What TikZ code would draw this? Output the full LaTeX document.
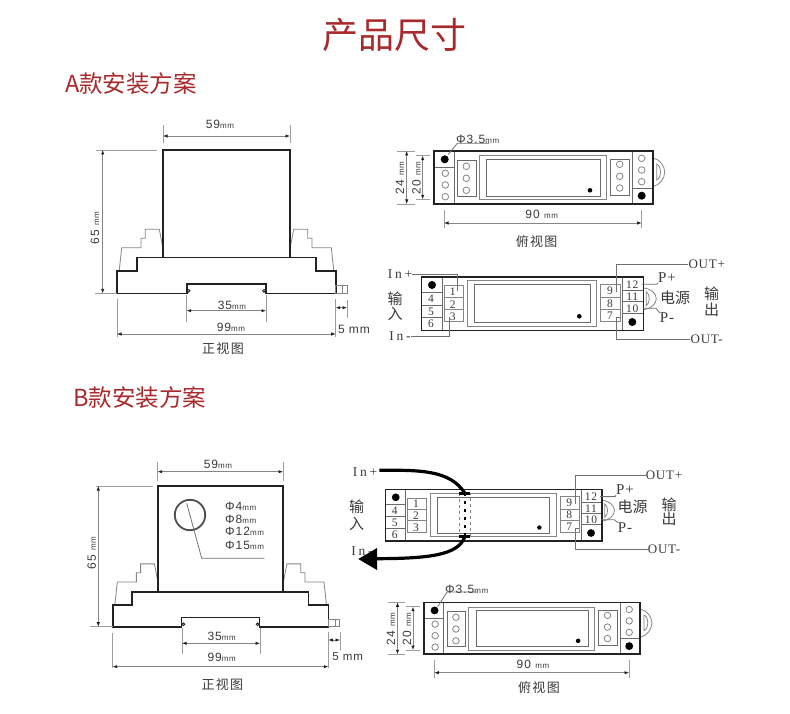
\documentclass[tikz,border=0pt]{standalone}
\usepackage{fontspec}
\usetikzlibrary{arrows.meta}
\setmainfont{Liberation Sans}
\newfontfamily\cjk{Noto Sans CJK SC}
\newfontfamily\cjkwide[LetterSpace=10]{Noto Sans CJK SC}
\newfontfamily\dimfont[LetterSpace=8]{Liberation Sans}
\newfontfamily\wfa[LetterSpace=20]{Liberation Serif}
\newfontfamily\wfb[LetterSpace=6]{Liberation Serif}
\newfontfamily\numfont[LetterSpace=6]{Liberation Serif}
\definecolor{ttl}{HTML}{A82A2C}
\definecolor{ink}{HTML}{222222}
\definecolor{soft}{HTML}{858585}
\definecolor{txt}{HTML}{3A3A3A}
\tikzset{
  x=1pt,y=-1pt,
  label/.style={inner sep=0pt,text=txt},
  heavy/.style={draw=ink,line width=1.6pt,line join=miter},
  thin part/.style={draw=soft,line width=.8pt},
  mid part/.style={draw=soft!80!black,line width=.9pt},
  dimln/.style={draw=soft,line width=.7pt,{Latex[length=4.5pt,width=3.4pt,color=ink]}-{Latex[length=4.5pt,width=3.4pt,color=ink]}},
  extln/.style={draw=soft!80,line width=.7pt},
  wire/.style={draw=soft!85!black,line width=.8pt},
  holefill/.style={fill=black,draw=none},
  hole ring/.style={draw=soft,line width=.8pt,fill=white},
}
\newcommand{\dm}[2]{{\dimfont\fontsize{12}{14}\selectfont #1\fontsize{8}{9}\selectfont #2}}
\newcommand{\cn}[1]{{\cjkwide\fontsize{13}{15}\selectfont #1}}
\newcommand{\wl}[1]{{\wfa\fontsize{13.5}{15}\selectfont #1}}
\newcommand{\wo}[1]{{\wfb\fontsize{13}{15}\selectfont #1}}
\newcommand{\wpw}[1]{{\wfb\fontsize{15}{17}\selectfont #1}}
\newcommand{\cb}[1]{{\cjk\fontsize{15}{17}\selectfont #1}}
\newcommand{\numl}[1]{{\numfont\fontsize{11.5}{13}\selectfont #1}}
% front view shape; origin: bottom-left corner of the base
\newcommand{\clipshape}{%
  \draw[thin part] (2.3,-23.3) -- (4.7,-45.6) -- (24,-45.6) -- (24,-55) -- (28.3,-55) -- (28.3,-64) -- (42.3,-64) -- (45.7,-46.6);
}
\newcommand{\frontshape}{%
  \clipshape
  \begin{scope}[xshift=219pt,xscale=-1]\clipshape\end{scope}
  \draw[heavy] (46,-35.6) rectangle (173,-143.3);
  \draw[heavy] (0,0) -- (0,-22) -- (19.7,-22) -- (19.7,-35.6) -- (198.7,-35.6) -- (198.7,-22) -- (218.7,-22) -- (218.7,0) -- (149,0) -- (149,-9.3) -- (69.7,-9.3) -- (69.7,0) -- cycle;
  \draw[draw=ink,line width=.8pt,fill=white] (71.7,-2.5) circle (1.4);
  \draw[draw=ink,line width=.8pt,fill=white] (147,-2.5) circle (1.4);
  \draw[thin part] (218.7,-7.6) rectangle (230,0);
  \draw[thin part] (225.5,-7.6) -- (225.5,0);
}
% top view; origin: top-left corner
\newcommand{\topshape}{%
  \draw[mid part] (0,16.3) -- (21,16.3);
  \draw[mid part] (20.3,0) -- (20.3,53);
  \draw[mid part] (199,0) -- (199,53);
  \draw[mid part] (199,37.3) -- (219,37.3);
  \draw[mid part] (23.6,9) rectangle (42.3,45);
  \draw[mid part] (177,8.3) rectangle (195.6,44);
  \draw[thin part] (45.3,4.7) rectangle (173,48.7);
  \draw[mid part] (53,8.3) rectangle (166.3,45);
  \foreach \px/\py in {11.6/22.3,11.6/34,11.6/45.7,32.6/15.3,32.6/27.3,32.6/39.3,186/13.3,186/25.3,186/37,208/7.3,208/19,208/30.7}
    \draw[hole ring] (\px,\py) circle (3.3);
  \fill[holefill] (11,8.3) circle (4);
  \fill[holefill] (208,44.7) circle (4);
  \fill[holefill] (156.3,39.3) circle (2.3);
  \draw[thin part] (219,7) .. controls (226,8) and (231,15) .. (231,21) .. controls (231,28) and (226,34) .. (219,35.7);
  \draw[thin part] (223,13) .. controls (228,15) and (228,27) .. (223,29) -- cycle;
  \draw[heavy] (0,0) rectangle (219,53);
}
% wiring view; #1 name prefix; origin: top-left corner
\newcommand{\wireshape}[1]{%
  \draw[mid part] (21,0) -- (21,53.6);
  \draw[mid part] (201,0) -- (201,53.6);
  \draw[mid part] (0,16) -- (21,16) (0,28.3) -- (21,28.3) (0,40.6) -- (21,40.6);
  \draw[mid part] (201,14) -- (222,14) (201,25) -- (222,25) (201,36.6) -- (222,36.6);
  \draw[thin part] (23,9) rectangle (42,44.3);
  \draw[thin part] (23,21) -- (42,21) (23,32.6) -- (42,32.6);
  \draw[thin part] (179.4,7.3) rectangle (198.7,44.3);
  \draw[thin part] (179.4,20.6) -- (198.7,20.6) (179.4,32.6) -- (198.7,32.6);
  \draw[thin part] (46,4) rectangle (175.4,49.3);
  \draw[mid part] (53.4,8) rectangle (168.7,45.3);
  \fill[holefill] (10.7,8.3) circle (4);
  \fill[holefill] (211,45.3) circle (4);
  \fill[holefill] (158,39.6) circle (2.3);
  \draw[thin part] (222,11.3) .. controls (230,12) and (235,17) .. (235,22) .. controls (235,27) and (230,32) .. (222,33);
  \draw[thin part] (225,15) .. controls (229,18) and (229,26) .. (225,29) -- cycle;
  \draw[heavy] (0,0) rectangle (222,53.6);
  \node[label] (#1-n4) at (9.7,22.3) {\numl{4}};
  \node[label] (#1-n5) at (9.7,34.6) {\numl{5}};
  \node[label] (#1-n6) at (9.7,46.6) {\numl{6}};
  \node[label] (#1-n1) at (31.4,15) {\numl{1}};
  \node[label] (#1-n2) at (31.4,27.6) {\numl{2}};
  \node[label] (#1-n3) at (31.4,40) {\numl{3}};
  \node[label] (#1-n9) at (188.7,14.3) {\numl{9}};
  \node[label] (#1-n8) at (188.7,26.6) {\numl{8}};
  \node[label] (#1-n7) at (188.7,39.3) {\numl{7}};
  \node[label] (#1-n12) at (211,8) {\numl{12}};
  \node[label] (#1-n11) at (211,20) {\numl{11}};
  \node[label] (#1-n10) at (211,31.6) {\numl{10}};
  \coordinate (#1-tin+) at (36.4,14.3);
  \coordinate (#1-tin-) at (27.7,40.3);
  \coordinate (#1-tout+) at (194.7,15);
  \coordinate (#1-tout-) at (194.7,41);
  \coordinate (#1-tp+) at (220.4,7.6);
  \coordinate (#1-tp-) at (221.7,31.6);
}
\begin{document}
\begin{tikzpicture}
\useasboundingbox (0,0) rectangle (790,714);
\fill[white] (0,0) rectangle (790,714);
% headings
\node[inner sep=0pt,text=ttl] (title) at (394.5,35) {\cjk\fontsize{36}{40}\selectfont 产品尺寸};
\node[inner sep=0pt,text=ttl,anchor=west] (headA) at (65,84) {\cjk\fontsize{23.5}{27}\selectfont A款安装方案};
\node[inner sep=0pt,text=ttl,anchor=west] (headB) at (73,398) {\cjk\fontsize{23.5}{27}\selectfont B款安装方案};

% ---------- A front view
\begin{scope}[shift={(117,293.3)}]\frontshape\end{scope}
\draw[extln] (163,125) -- (163,143) (290,125) -- (290,143);
\draw[dimln] (163,136) -- (290,136);
\node[label] (a59) at (220,124) {\dm{59}{mm}};
\draw[extln] (96,150) -- (157,150) (95,293.3) -- (117,293.3);
\draw[dimln] (102.7,150) -- (102.7,293.3);
\node[label,rotate=90] (a65) at (95,228) {\dm{65 }{mm}};
\draw[extln] (186.7,295) -- (186.7,322) (266,295) -- (266,322);
\draw[dimln] (186.7,310.7) -- (266,310.7);
\node[label] (a35) at (232,305) {\dm{35}{mm}};
\draw[extln] (117,299) -- (117,337) (335.7,299) -- (335.7,337);
\draw[dimln] (117,334) -- (335.7,334);
\node[label] (a99) at (231,327) {\dm{99}{mm}};
\draw[extln] (335.7,300) -- (335.7,318) (347,300) -- (347,318);
\draw[dimln] (335.7,307.7) -- (347,307.7);
\node[label] (a5) at (354,329) {{\dimfont\fontsize{12}{14}\selectfont 5 mm}};
\node[label] (afront) at (223,349) {\cn{正视图}};

% ---------- A top view
\begin{scope}[shift={(433.7,151)}]\topshape\end{scope}
\draw[wire] (448.3,154.3) -- (457.3,143.3) -- (489.3,143.3);
\node[label,anchor=west] (aphi) at (456,139) {\dm{Φ3.5}{mm}};
\draw[extln] (396.7,151) -- (415,151) (396.7,204) -- (415,204);
\draw[dimln] (406.7,151) -- (406.7,204);
\node[label,rotate=90] (a24) at (400,178) {\dm{24 }{mm}};
\draw[extln] (416,155.7) -- (430,155.7) (416,199.3) -- (430,199.3);
\draw[dimln] (422.7,155.7) -- (422.7,199.3);
\node[label,rotate=90] (a20) at (416.5,178) {\dm{20 }{mm}};
\draw[extln] (444,210) -- (444,228) (641.7,210) -- (641.7,228);
\draw[dimln] (444,223) -- (641.7,223);
\node[label] (a90) at (541.7,214.3) {\dm{90 }{mm}};
\node[label] (atop) at (536.7,241.7) {\cn{俯视图}};

% ---------- A wiring view
\begin{scope}[shift={(421.3,276.7)}]\wireshape{A}\end{scope}
\node[label] (Ainp) at (400,274) {\wl{In+}};
\node[label] (Ainm) at (400,336) {\wl{In-}};
\node[label] (Aoutp) at (706.7,264.5) {\wo{OUT+}};
\node[label] (Aoutm) at (706.7,339.5) {\wo{OUT-}};
\node[label] (App) at (667,278) {\wpw{P+}};
\node[label] (Apm) at (667,318) {\wpw{P-}};
\node[label] (Apw) at (675,297.7) {\cb{电源}};
\node[label] (Ain1) at (395,299) {\cb{输}};
\node[label] (Ain2) at (395,313.5) {\cb{入}};
\node[label] (Aou1) at (711.7,293.5) {\cb{输}};
\node[label] (Aou2) at (711.7,309.5) {\cb{出}};
\draw[wire] (Ainp.east) -| (A-tin+);
\draw[wire] (Ainm.east) -| (A-tin-);
\draw[wire] (Aoutp.west) -| (A-tout+);
\draw[wire] (Aoutm.west) -| (A-tout-) -- ++(4,0);
\draw[wire] (A-tp+) -- ++(15,0) -- (App.south west);
\draw[wire] (A-tp-) -- ++(13,0) -- (Apm.north west);

% ---------- B front view
\begin{scope}[shift={(112.7,626.7)},xscale=.986,yscale=.982]\frontshape\end{scope}
\draw[extln] (157.7,461.7) -- (157.7,480.7) (283,461.7) -- (283,480.7);
\draw[dimln] (157.7,471.7) -- (283,471.7);
\node[label] (b59) at (218,464) {\dm{59}{mm}};
\draw[extln] (96,486) -- (152.7,486) (90,626.7) -- (112.7,626.7);
\draw[dimln] (98.3,486) -- (98.3,626.7);
\node[label,rotate=90] (b65) at (91.7,553.3) {\dm{65 }{mm}};
\draw[extln] (182,628) -- (182,654) (260,628) -- (260,654);
\draw[dimln] (182,643.3) -- (260,643.3);
\node[label] (b35) at (221.7,636.7) {\dm{35}{mm}};
\draw[extln] (112.7,633) -- (112.7,668) (328.3,633) -- (328.3,668);
\draw[dimln] (112.7,666.7) -- (328.3,666.7);
\node[label] (b99) at (221.7,657.3) {\dm{99}{mm}};
\draw[extln] (328.3,631.7) -- (328.3,650) (340,631.7) -- (340,650);
\draw[dimln] (328.3,640) -- (340,640);
\node[label] (b5) at (347.7,656.7) {{\dimfont\fontsize{11.5}{13}\selectfont 5 mm}};
\node[label] (bfront) at (222.3,685) {\cn{正视图}};
\draw[draw=ink!80,line width=1.8pt] (190,515) circle (15.2);
\draw[wire] (186.7,503.3) -- (201.7,558.3) -- (264.3,558.3);
\node[label,anchor=west] (bp1) at (225,506) {\dm{Φ4}{mm}};
\node[label,anchor=west] (bp2) at (225,519) {\dm{Φ8}{mm}};
\node[label,anchor=west] (bp3) at (225,531.7) {\dm{Φ12}{mm}};
\node[label,anchor=west] (bp4) at (225,545.7) {\dm{Φ15}{mm}};

% ---------- B top view
\begin{scope}[shift={(423.7,602.3)},xscale=.988,yscale=.98]\topshape\end{scope}
\draw[wire] (437.7,606.7) -- (447,592) -- (477,592);
\node[label,anchor=west] (bphi) at (445,589) {\dm{Φ3.5}{mm}};
\draw[extln] (388,602.3) -- (405,602.3) (388,654.3) -- (405,654.3);
\draw[dimln] (397.5,602.3) -- (397.5,654.3);
\node[label,rotate=90] (b24) at (391,629) {\dm{24 }{mm}};
\draw[extln] (406,606.7) -- (420,606.7) (406,650) -- (420,650);
\draw[dimln] (413,606.7) -- (413,650);
\node[label,rotate=90] (b20) at (407,629) {\dm{20 }{mm}};
\draw[extln] (434.3,660) -- (434.3,678) (629,660) -- (629,678);
\draw[dimln] (434.3,672.7) -- (629,672.7);
\node[label] (b90) at (533,664) {\dm{90 }{mm}};
\node[label] (btop) at (539,688) {\cn{俯视图}};

% ---------- B wiring view
\begin{scope}[shift={(385.3,489.3)},xscale=.975,yscale=.965]\wireshape{B}\end{scope}
\node[label] (Binp) at (365,472.3) {\wl{In+}};
\node[label] (Binm) at (362,551.5) {\wl{In-}};
\node[label] (Boutp) at (664,475.7) {\wo{OUT+}};
\node[label] (Boutm) at (664,549.3) {\wo{OUT-}};
\node[label] (Bpp) at (625,490) {\wpw{P+}};
\node[label] (Bpm) at (625,527.7) {\wpw{P-}};
\node[label] (Bpw) at (632.7,507.3) {\cb{电源}};
\node[label] (Bin1) at (356.7,506.7) {\cb{输}};
\node[label] (Bin2) at (356.7,524.3) {\cb{入}};
\node[label] (Bou1) at (669,504.3) {\cb{输}};
\node[label] (Bou2) at (669,519) {\cb{出}};
\draw[wire] (Boutp.west) -| (B-tout+);
\draw[wire] (Boutm.west) -| (B-tout-) -- ++(4,0);
\draw[wire] (B-tp+) -- ++(15,0) -- (Bpp.south west);
\draw[wire] (B-tp-) -- ++(13,0) -- (Bpm.north west);
% pass-through conductor
\coordinate (Bbar1) at (464.7,493);
\coordinate (Bbar2) at (464.7,537);
\draw[soft,line width=.8pt,dashed] (459.3,493.3) rectangle (470,536.7);
\draw[black,line width=2.2pt,dash pattern=on 2.5pt off 5.5pt] (Bbar1) -- (Bbar2);
\fill[black] (459.3,492) rectangle (470,495);
\fill[black] (459.3,535) rectangle (470,538);
\draw[black,line width=3.2pt] (Binp.east) ++(2,-2) .. controls (420,470) and (450,470) .. (Bbar1);
\draw[black,line width=3.2pt] (Bbar2) .. controls (458,555) and (430,558.5) .. (376,558.7);
\fill[black] (358.3,559) -- (377,548) -- (377,570) -- cycle;
\end{tikzpicture}
\end{document}
